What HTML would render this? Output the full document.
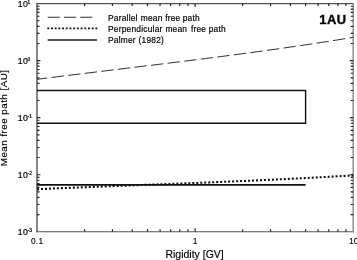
<!DOCTYPE html>
<html><head><meta charset="utf-8"><title>Mean free path</title>
<style>html,body{margin:0;padding:0;background:#fff;overflow:hidden}svg{display:block}</style></head>
<body>
<svg width="357" height="260" viewBox="0 0 357 260" font-family="'Liberation Sans', Arial, sans-serif" fill="#000">
<rect width="357" height="260" fill="#fff"/>
<path d="M37.0 3.1V232.25" stroke="#484848" stroke-width="1.3" fill="none"/>
<path d="M36.4 3.6H353.7" stroke="#555" stroke-width="1.15" fill="none"/>
<path d="M36.4 231.75H353.7" stroke="#555" stroke-width="1.15" fill="none"/>
<path d="M353.2 3.1V232.25" stroke="#8a8a8a" stroke-width="1.4" fill="none"/>
<path d="M84.59 231.75v-2.5M84.59 3.6v2.5M112.43 231.75v-2.5M112.43 3.6v2.5M132.19 231.75v-2.5M132.19 3.6v2.5M147.51 231.75v-2.5M147.51 3.6v2.5M160.03 231.75v-2.5M160.03 3.6v2.5M170.61 231.75v-2.5M170.61 3.6v2.5M179.78 231.75v-2.5M179.78 3.6v2.5M187.87 231.75v-2.5M187.87 3.6v2.5M195.10 231.75v-3.4M195.10 3.6v3.4M242.69 231.75v-2.5M242.69 3.6v2.5M270.53 231.75v-2.5M270.53 3.6v2.5M290.29 231.75v-2.5M290.29 3.6v2.5M305.61 231.75v-2.5M305.61 3.6v2.5M318.13 231.75v-2.5M318.13 3.6v2.5M328.71 231.75v-2.5M328.71 3.6v2.5M337.88 231.75v-2.5M337.88 3.6v2.5M345.97 231.75v-2.5M345.97 3.6v2.5M37.0 214.58h2.5M353.2 214.58h-2.5M37.0 204.54h2.5M353.2 204.54h-2.5M37.0 197.41h2.5M353.2 197.41h-2.5M37.0 191.88h2.5M353.2 191.88h-2.5M37.0 187.37h2.5M353.2 187.37h-2.5M37.0 183.55h2.5M353.2 183.55h-2.5M37.0 180.24h2.5M353.2 180.24h-2.5M37.0 177.32h2.5M353.2 177.32h-2.5M37.0 174.71h3.4M353.2 174.71h-3.4M37.0 157.54h2.5M353.2 157.54h-2.5M37.0 147.50h2.5M353.2 147.50h-2.5M37.0 140.37h2.5M353.2 140.37h-2.5M37.0 134.84h2.5M353.2 134.84h-2.5M37.0 130.33h2.5M353.2 130.33h-2.5M37.0 126.51h2.5M353.2 126.51h-2.5M37.0 123.20h2.5M353.2 123.20h-2.5M37.0 120.28h2.5M353.2 120.28h-2.5M37.0 117.67h3.4M353.2 117.67h-3.4M37.0 100.51h2.5M353.2 100.51h-2.5M37.0 90.46h2.5M353.2 90.46h-2.5M37.0 83.34h2.5M353.2 83.34h-2.5M37.0 77.81h2.5M353.2 77.81h-2.5M37.0 73.29h2.5M353.2 73.29h-2.5M37.0 69.47h2.5M353.2 69.47h-2.5M37.0 66.17h2.5M353.2 66.17h-2.5M37.0 63.25h2.5M353.2 63.25h-2.5M37.0 60.64h3.4M353.2 60.64h-3.4M37.0 43.47h2.5M353.2 43.47h-2.5M37.0 33.42h2.5M353.2 33.42h-2.5M37.0 26.30h2.5M353.2 26.30h-2.5M37.0 20.77h2.5M353.2 20.77h-2.5M37.0 16.25h2.5M353.2 16.25h-2.5M37.0 12.44h2.5M353.2 12.44h-2.5M37.0 9.13h2.5M353.2 9.13h-2.5M37.0 6.21h2.5M353.2 6.21h-2.5" stroke="#222" stroke-width="1.15" fill="none"/>
<polyline points="37.0,79.33 42.3,78.66 47.5,77.99 52.8,77.33 58.1,76.67 63.3,76.01 68.6,75.36 73.9,74.71 79.2,74.06 84.4,73.41 89.7,72.76 95.0,72.12 100.2,71.47 105.5,70.83 110.8,70.19 116.0,69.55 121.3,68.91 126.6,68.27 131.9,67.63 137.1,66.99 142.4,66.35 147.7,65.70 152.9,65.06 158.2,64.42 163.5,63.77 168.8,63.12 174.0,62.47 179.3,61.82 184.6,61.16 189.8,60.50 195.1,59.84 200.4,59.18 205.6,58.51 210.9,57.84 216.2,57.16 221.5,56.48 226.7,55.79 232.0,55.10 237.3,54.41 242.5,53.71 247.8,53.00 253.1,52.29 258.3,51.57 263.6,50.85 268.9,50.12 274.1,49.38 279.4,48.63 284.7,47.88 290.0,47.12 295.2,46.36 300.5,45.58 305.8,44.80 311.0,44.01 316.3,43.21 321.6,42.40 326.8,41.58 332.1,40.75 337.4,39.91 342.7,39.07 347.9,38.21 353.2,37.34" fill="none" stroke="#222" stroke-width="0.95" stroke-dasharray="12.3 4.4" stroke-dashoffset="2"/>
<polyline points="37.0,189.18 42.3,188.95 47.5,188.73 52.8,188.51 58.1,188.29 63.3,188.07 68.6,187.86 73.9,187.65 79.2,187.44 84.4,187.23 89.7,187.02 95.0,186.82 100.2,186.61 105.5,186.41 110.8,186.21 116.0,186.01 121.3,185.80 126.6,185.60 131.9,185.40 137.1,185.20 142.4,185.00 147.7,184.80 152.9,184.60 158.2,184.40 163.5,184.20 168.8,184.00 174.0,183.80 179.3,183.59 184.6,183.39 189.8,183.18 195.1,182.97 200.4,182.77 205.6,182.56 210.9,182.34 216.2,182.13 221.5,181.91 226.7,181.69 232.0,181.47 237.3,181.25 242.5,181.02 247.8,180.79 253.1,180.56 258.3,180.32 263.6,180.08 268.9,179.84 274.1,179.59 279.4,179.34 284.7,179.09 290.0,178.83 295.2,178.57 300.5,178.30 305.8,178.03 311.0,177.76 316.3,177.48 321.6,177.19 326.8,176.90 332.1,176.61 337.4,176.31 342.7,176.00 347.9,175.69 353.2,175.37" fill="none" stroke="#111" stroke-width="2.1" stroke-dasharray="2 1.985" stroke-dashoffset="0"/>
<path d="M37.0 184.85H305.6" fill="none" stroke="#111" stroke-width="1.8"/>
<path d="M37.0 90.5H305.6V123.2H37.0" fill="none" stroke="#111" stroke-width="1.4"/>
<path d="M47.7 17.25H93" fill="none" stroke="#222" stroke-width="0.95" stroke-dasharray="12.1 4.2"/>
<path d="M47.3 28.35H97.5" fill="none" stroke="#111" stroke-width="1.9" stroke-dasharray="1.9 1.8"/>
<path d="M47.7 40H97" fill="none" stroke="#1a1a1a" stroke-width="1.35"/>
<g font-size="8.4" letter-spacing="0.22" stroke="#000" stroke-width="0.18">
<text y="20.9"><tspan x="108.0">Parallel</tspan> <tspan x="140.8">mean</tspan> <tspan x="165.2">free</tspan> <tspan x="182.7">path</tspan></text>
<text y="31.5"><tspan x="108.0">Perpendicular</tspan> <tspan x="165.4">mean</tspan> <tspan x="190.9">free</tspan> <tspan x="208.7">path</tspan></text>
<text y="42.8"><tspan x="108.0">Palmer</tspan> <tspan x="138.5">(1982)</tspan></text>
</g>
<text x="319.2" y="23.5" font-size="12.9" font-weight="bold" letter-spacing="0.55" fill="#000" stroke="#000" stroke-width="0.35">1AU</text>
<g font-size="8.7" stroke="#000" stroke-width="0.2">
<text x="17.7" y="6.7" letter-spacing="0.4">10</text><text x="27.6" y="4.1" font-size="4.8">1</text>
<text x="17.7" y="64.0" letter-spacing="0.4">10</text><text x="27.6" y="61.2" font-size="4.8">0</text>
<text x="17.7" y="120.6" letter-spacing="0.4">10</text><text x="27.6" y="118.1" font-size="4.8">-1</text>
<text x="17.7" y="178.2" letter-spacing="0.4">10</text><text x="27.6" y="175.2" font-size="4.8">-2</text>
<text x="17.7" y="234.7" letter-spacing="0.4">10</text><text x="27.6" y="232.0" font-size="4.8">-3</text>
<g font-size="8.4" letter-spacing="0.25" stroke-width="0.12">
<text x="37.1" y="244.2" text-anchor="middle">0.1</text>
<text x="195.1" y="244.2" text-anchor="middle">1</text>
<text x="353.8" y="244.2" text-anchor="middle">10</text>
</g>
</g>
<text x="194.6" y="257.8" font-size="10.5" text-anchor="middle" stroke="#000" stroke-width="0.15">Rigidity [GV]</text>
<text transform="translate(6.9 166.2) rotate(-90)" font-size="9.8" letter-spacing="0.47" stroke="#000" stroke-width="0.15">Mean free path [AU]</text>
</svg>
</body></html>
